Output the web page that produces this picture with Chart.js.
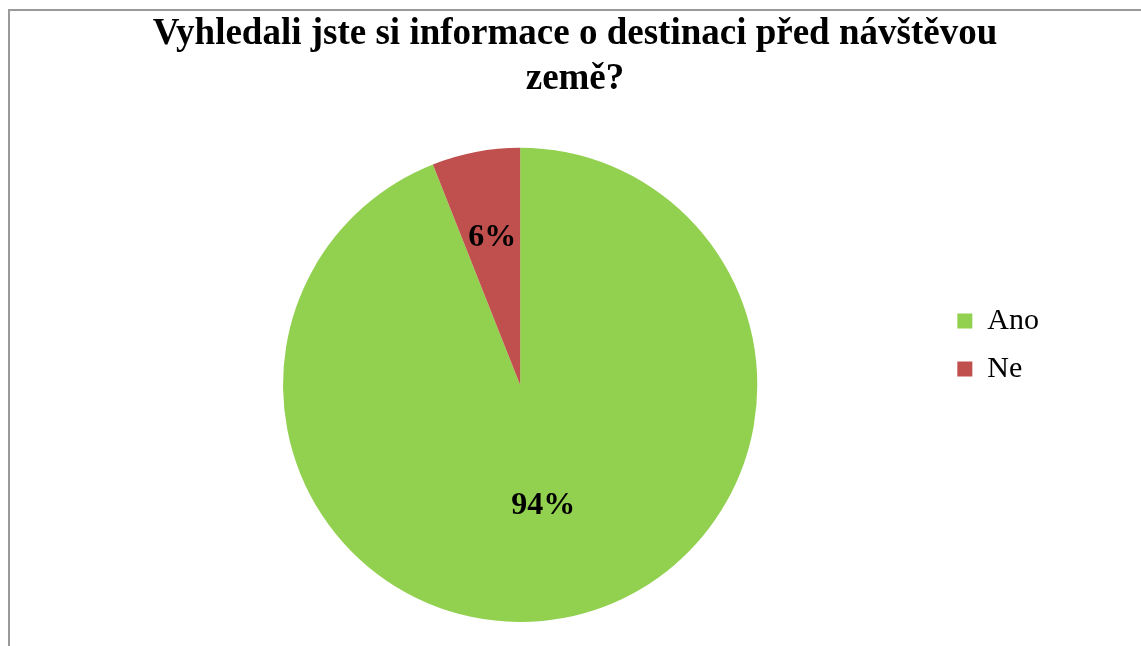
<!DOCTYPE html>
<html>
<head>
<meta charset="utf-8">
<script src="https://cdn.jsdelivr.net/npm/chart.js@4"></script>
<style>
  html, body { margin: 0; padding: 0; background: white; overflow: hidden; }
  #wrap { position: relative; width: 1141px; height: 646px; }
  #frame {
    position: absolute; left: 8px; top: 9px; width: 1200px; height: 700px;
    border-left: 2px solid #9a9a9a; border-top: 2px solid #9a9a9a;
  }
  canvas { position: absolute; left: 0; top: 0; }
</style>
</head>
<body>
<div id="wrap">
  <div id="frame"></div>
  <canvas id="chart" width="1141" height="646"></canvas>
</div>
<script>
const titleLines = ["Vyhledali jste si informace o destinaci před návštěvou", "země?"];
const categories = ["Ano", "Ne"];
const shares = [94, 6];
const sliceColors = ["#92D050", "#C0504D"];

const serif = "'Liberation Serif', 'Times New Roman', serif";

// percent labels inside the slices
const pieLabels = {
  id: "pieLabels",
  afterDatasetsDraw(chart) {
    const ctx = chart.ctx;
    const arcs = chart.getDatasetMeta(0).data;
    const total = shares.reduce((a, b) => a + b, 0);
    ctx.save();
    ctx.font = "bold 32px " + serif;
    ctx.fillStyle = "black";
    ctx.textAlign = "center";
    ctx.textBaseline = "middle";
    arcs.forEach((arc, i) => {
      const p = arc.getProps(["x", "y", "startAngle", "endAngle", "outerRadius"], true);
      const mid = (p.startAngle + p.endAngle) / 2;
      const f = shares[i] / total > 0.5 ? 0.52 : 0.63;
      const x = p.x + Math.cos(mid) * p.outerRadius * f;
      const y = p.y + Math.sin(mid) * p.outerRadius * f;
      ctx.fillText(Math.round(shares[i] / total * 100) + "%", x, y);
    });
    ctx.restore();
  },
};

const config = {
  type: "pie",
  data: {
    labels: categories,
    datasets: [
      {
        data: shares,
        backgroundColor: sliceColors,
        borderWidth: 0,
      },
    ],
  },
  options: {
    responsive: false,
    animation: false,
    layout: {
      padding: { left: 101, right: 92, top: 0, bottom: 24 },
    },
    plugins: {
      tooltip: { enabled: false },
      title: {
        display: true,
        text: titleLines,
        color: "black",
        padding: { top: 11, bottom: 45 },
        font: {
          family: serif,
          size: 37,
          weight: "bold",
          lineHeight: 1.24,
        },
      },
      legend: {
        position: "right",
        title: {
          display: true,
          text: "",
          padding: 22,
          font: { size: 20, lineHeight: 1.2 },
        },
        labels: {
          color: "black",
          boxWidth: 15,
          boxHeight: 15,
          padding: 18,
          font: {
            family: serif,
            size: 30,
          },
        },
      },
    },
  },
  plugins: [pieLabels],
};

const ctx = document.getElementById("chart").getContext("2d");
const myChart = new Chart(ctx, config);
</script>
</body>
</html>
